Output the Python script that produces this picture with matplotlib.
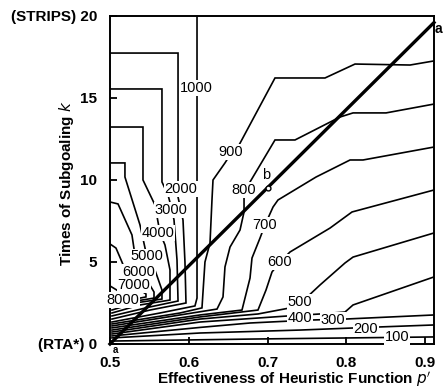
import matplotlib
matplotlib.use("Agg")
import matplotlib.pyplot as plt

plt.rcParams["font.family"] = ["Liberation Sans", "DejaVu Sans"]

# contour lines (p', k)
c100 = ([0.5025, 0.678, 0.9114], [0.18, 0.30, 0.43])
c200 = ([0.5025, 0.6143, 0.7413, 0.8429, 0.9114], [0.37, 0.67, 0.85, 1.04, 1.16])
c300 = ([0.5025, 0.6143, 0.6778, 0.754, 0.7984, 0.9114], [0.49, 1.01, 1.28, 1.46, 1.52, 1.77])
c400 = ([0.5025, 0.6143, 0.726, 0.7667, 0.7984, 0.8086, 0.9114], [0.61, 1.34, 1.71, 1.83, 1.95, 2.38, 4.09])
c500 = ([0.5025, 0.6143, 0.6879, 0.7286, 0.7489, 0.7667, 0.7984, 0.8086, 0.9114],
        [0.73, 1.52, 1.83, 2.20, 2.80, 3.60, 4.94, 5.30, 6.77])
c600 = ([0.5025, 0.6143, 0.6879, 0.6981, 0.7057, 0.7159, 0.7286, 0.7794, 0.8073, 0.9114],
        [0.85, 1.65, 2.07, 3.29, 4.39, 5.0, 5.61, 7.07, 8.05, 9.39])
c700 = ([0.5025, 0.6143, 0.6676, 0.6778, 0.6803, 0.6905, 0.6968, 0.707, 0.7133, 0.7616, 0.8048, 0.8213, 0.9114],
        [0.98, 1.77, 2.07, 4.02, 5.24, 6.46, 7.26, 8.35, 8.78, 10.18, 11.22, 11.22, 12.01])
c800 = ([0.5025, 0.5889, 0.6359, 0.6435, 0.646, 0.6524, 0.6651, 0.6702, 0.6702, 0.6778, 0.7095, 0.7349,
         0.7921, 0.8086, 0.8505, 0.9114],
        [1.10, 1.77, 2.13, 2.87, 4.70, 5.91, 6.95, 8.05, 9.39, 9.88, 12.44, 12.44, 13.84, 14.09, 14.09, 14.63])
c900 = ([0.5025, 0.5889, 0.6168, 0.6206, 0.627, 0.6295, 0.6308, 0.646, 0.6549, 0.6625, 0.7095, 0.773,
         0.8111, 0.881, 0.9114],
        [1.22, 1.89, 2.20, 5.0, 6.16, 8.78, 10.0, 11.04, 11.71, 12.01, 16.22, 16.22, 17.07, 17.01, 17.26])
c1000 = ([0.5025, 0.5635, 0.6079, 0.6105, 0.6105], [1.34, 1.89, 2.32, 2.80, 20.0])
c2000 = ([0.5, 0.5864, 0.5864, 0.5927, 0.5952, 0.5965, 0.5508, 0.5025],
         [17.74, 17.74, 8.96, 7.56, 5.0, 2.50, 2.07, 1.52])
c3000 = ([0.5, 0.566, 0.566, 0.5737, 0.5787, 0.5813, 0.5851, 0.5864, 0.5508, 0.5025],
         [15.55, 15.55, 9.88, 9.09, 8.17, 7.56, 5.12, 2.62, 2.26, 1.71])
c4000 = ([0.5, 0.5419, 0.5419, 0.5571, 0.5635, 0.5698, 0.5762, 0.5762, 0.5381, 0.5025],
         [13.23, 13.23, 10.0, 8.48, 6.77, 6.04, 4.51, 2.68, 2.38, 1.89])
c5000 = ([0.5, 0.519, 0.519, 0.5381, 0.547, 0.5571, 0.566, 0.566, 0.5317, 0.5025],
         [11.04, 11.04, 10.18, 7.26, 5.30, 4.51, 3.29, 2.74, 2.50, 2.07])
c6000 = ([0.5, 0.5102, 0.5279, 0.533, 0.5356, 0.5483, 0.5559, 0.5559, 0.5254, 0.5025],
         [8.66, 8.54, 6.65, 5.0, 4.39, 3.78, 3.17, 2.80, 2.56, 2.26])
c7000 = ([0.5, 0.5076, 0.5152, 0.5203, 0.5292, 0.5381, 0.5457, 0.5457, 0.519, 0.5025],
         [6.10, 5.85, 5.0, 4.39, 3.60, 3.29, 3.05, 2.87, 2.62, 2.44])
c8000 = ([0.5, 0.5127, 0.5279, 0.5343, 0.519, 0.5025], [3.54, 3.17, 2.99, 2.93, 2.74, 2.62])

contours = [c100, c200, c300, c400, c500, c600, c700, c800, c900, c1000,
            c2000, c3000, c4000, c5000, c6000, c7000, c8000]

# label text and where it sits
label_text = ["100", "200", "300", "400", "500", "600", "700", "800", "900", "1000",
              "2000", "3000", "4000", "5000", "6000", "7000", "8000"]
label_p = [0.8644, 0.825, 0.7832, 0.7413, 0.7413, 0.7159, 0.6968, 0.670, 0.6537, 0.6092,
           0.5902, 0.5775, 0.561, 0.547, 0.5368, 0.5305, 0.5165]
label_k = [0.42, 0.93, 1.48, 1.58, 2.55, 5.0, 7.26, 9.39, 11.7, 15.6,
           9.45, 8.17, 6.77, 5.35, 4.39, 3.6, 2.68]

# the optimal line a-b-a and point b
diag_p = [0.5, 0.9114]
diag_k = [0.0, 19.6]
b_p, b_k = 0.7, 9.5

fig = plt.figure(figsize=(4.46, 3.89), dpi=100)
ax = fig.add_axes([0.2466, 0.1157, 0.7265, 0.8432])

for ps, ks in contours:
    ax.plot(ps, ks, color="black", lw=1.2, solid_joinstyle="miter")

for t, p, k in zip(label_text, label_p, label_k):
    ax.text(p, k, t, fontsize=10.5, ha="center", va="center", zorder=4,
            bbox=dict(boxstyle="square,pad=0.05", fc="white", ec="none"))

ax.plot(diag_p, diag_k, color="black", lw=2.4, zorder=5, clip_on=False)
ax.plot(b_p, b_k, "o", ms=3.5, mfc="white", mec="black", mew=1.0, zorder=6)
ax.text(b_p - 0.002, b_k + 0.35, "b", fontsize=10.5, ha="center", va="bottom", zorder=6)
ax.text(0.9165, 19.2, "a", fontsize=10, fontweight="bold", ha="center", va="center", clip_on=False)
ax.text(0.5075, -0.35, "a", fontsize=7, fontweight="bold", ha="center", va="center", clip_on=False)

ax.set_xlim(0.5, 0.9114)
ax.set_ylim(0, 20)
ax.set_xticks([0.5, 0.6, 0.7, 0.8, 0.9])
ax.set_yticks([0, 5, 10, 15, 20], labels=["(RTA*) 0", "5", "10", "15", "(STRIPS) 20"])
ax.tick_params(direction="in", length=5, width=1.3, pad=9, labelsize=11)
for lab in ax.get_xticklabels() + ax.get_yticklabels():
    lab.set_fontweight("bold")
for s in ax.spines.values():
    s.set_linewidth(1.4)

ax.set_xlabel("Effectiveness of Heuristic Function $p'$", fontsize=11, fontweight="bold")
ax.set_ylabel("Times of Subgoaling $k$", fontsize=11, fontweight="bold")
ax.xaxis.set_label_coords(0.568, -0.078)
ax.yaxis.set_label_coords(-0.105, 0.49)

fig.savefig("out.png", dpi=100)
